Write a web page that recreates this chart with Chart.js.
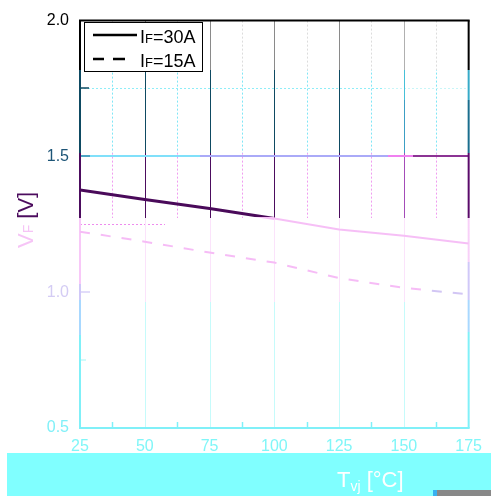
<!DOCTYPE html>
<html lang="en">
<head>
<meta charset="utf-8"/>
<title>VF vs Tvj</title>
<script src="https://cdn.jsdelivr.net/npm/chart.js"></script>
<style>
  html, body { margin: 0; padding: 0; background: #fff; }
  #wrap { width: 491px; height: 496px; }
</style>
</head>
<body>
<div id="wrap"><canvas id="vfChart" width="491" height="496"></canvas></div>
<script>
// junction temperature [°C]
const tempC = [25, 50, 75, 100, 125, 150, 175];
// forward voltage [V] at two currents
const vf30A = [1.376, 1.341, 1.308, 1.271, 1.231, 1.208, 1.179];
const vf15A = [1.223, 1.186, 1.146, 1.109, 1.052, 1.016, 0.992];
const seriesCurrents = ['30A', '15A'];
const xTicks = [25, 50, 75, 100, 125, 150, 175];
const yTicks = [0.5, 1.0, 1.5, 2.0];
const yTickColors = ['#80f0f8', '#d4ccf4', '#1d5577', '#000000'];

const FONT = 'Liberation Sans, Arial, sans-serif';
const H = 496, W = 491;

// hard-banded gradient, bands = [[from, to, colour], ...]
function bandGrad(ctx, bands, horizontal) {
    const size = horizontal ? W : H;
    const g = horizontal ? ctx.createLinearGradient(0, 0, W, 0) : ctx.createLinearGradient(0, 0, 0, H);
    bands.forEach(([a, b, c]) => {
        g.addColorStop(Math.max(0, a) / size, c);
        g.addColorStop(Math.min(size, b) / size, c);
    });
    return g;
}

const NONE = 'rgba(255,255,255,0)';
const majorBands = [[0, 70, '#8a8a8a'], [70, 153, '#0e4a62'], [153, 218, '#4c0c5e'], [218, 302, '#fbe3fb'], [302, 496, '#c6fbfb']];
const majorBandsLight = [[0, 70, '#b0b0b0'], [70, 100, '#46c0d8'], [100, 153, '#3c9ec4'], [153, 218, '#a44cb8'], [218, 302, '#fbe3fb'], [302, 496, '#c6fbfb']];
const minorBands = [[0, 70, '#dcdcdc'], [70, 153, '#7fe6f6'], [153, 218, '#f09cf0'], [218, 496, NONE]];
const leftBorderBands = [[0, 70, '#000000'], [70, 153, '#0e4a62'], [153, 218, '#4c0c5e'], [218, 284, '#f8c8f8'], [284, 300, '#d0c8f8'], [300, 335, '#a8d8ff'], [335, 496, '#80f0f8']];
const rightBorderBands = [[0, 70, '#000000'], [70, 100, '#36aac8'], [100, 153, '#1a6e8e'], [153, 218, '#5a0a6a'], [218, 262, '#f8d0f8'], [262, 300, '#d0c8f8'], [300, 332, '#a8d8ff'], [332, 496, '#80f0f8']];

const gridPlugin = {
    id: 'gridPlugin',
    beforeDatasetsDraw(chart) {
        const { ctx, chartArea: a, scales: { x, y } } = chart;
        ctx.save();
        // minor dotted verticals
        ctx.lineWidth = 1;
        ctx.setLineDash([2, 2]);
        for (let i = 0; i < xTicks.length - 1; i++) {
            const px = Math.round(x.getPixelForValue((xTicks[i] + xTicks[i + 1]) / 2)) + 0.5;
            ctx.strokeStyle = bandGrad(ctx, minorBands);
            ctx.beginPath(); ctx.moveTo(px, a.top); ctx.lineTo(px, a.bottom); ctx.stroke();
        }
        // minor dotted horizontals
        const y175 = Math.round(y.getPixelForValue(1.75)) + 0.5;
        ctx.strokeStyle = bandGrad(ctx, [[0, 382, '#8eeef8'], [382, W, '#c8f6f8']], true);
        ctx.beginPath(); ctx.moveTo(a.left, y175); ctx.lineTo(a.right, y175); ctx.stroke();
        const y125 = Math.round(y.getPixelForValue(1.25)) + 0.5;
        ctx.strokeStyle = bandGrad(ctx, [[0, 165, '#ee8cee'], [165, W, NONE]], true);
        ctx.beginPath(); ctx.moveTo(a.left, y125); ctx.lineTo(a.right, y125); ctx.stroke();
        ctx.setLineDash([]);
        // major verticals
        xTicks.slice(1, -1).forEach(v => {
            const px = Math.round(x.getPixelForValue(v)) + 0.5;
            ctx.strokeStyle = bandGrad(ctx, v >= 150 ? majorBandsLight : majorBands);
            ctx.beginPath(); ctx.moveTo(px, a.top); ctx.lineTo(px, a.bottom); ctx.stroke();
        });
        // major horizontal at 1.5
        const y15 = Math.round(y.getPixelForValue(1.5));
        ctx.lineWidth = 2;
        ctx.strokeStyle = bandGrad(ctx, [[0, 200, '#80e0fa'], [200, 388, '#aaaaf8'], [388, 413, '#f080f0'], [413, W, '#8c3494']], true);
        ctx.beginPath(); ctx.moveTo(a.left, y15); ctx.lineTo(a.right, y15); ctx.stroke();
        // inward y ticks
        const yt = [[1.75, 9, '#0e4a62'], [1.5, 10, '#3a90b0'], [1.0, 10, '#d8d0f8'], [0.75, 6, '#c0f8f8']];
        ctx.lineWidth = 1.5;
        yt.forEach(([v, len, c]) => {
            const py = Math.round(y.getPixelForValue(v));
            ctx.strokeStyle = c;
            ctx.beginPath(); ctx.moveTo(a.left, py); ctx.lineTo(a.left + len, py); ctx.stroke();
        });
        // inward minor x ticks
        ctx.strokeStyle = '#80f0f8';
        for (let i = 0; i < xTicks.length - 1; i++) {
            const px = Math.round(x.getPixelForValue((xTicks[i] + xTicks[i + 1]) / 2)) + 0.5;
            ctx.beginPath(); ctx.moveTo(px, a.bottom); ctx.lineTo(px, a.bottom - 6); ctx.stroke();
        }
        // frame
        ctx.lineWidth = 2;
        ctx.strokeStyle = '#000';
        ctx.beginPath(); ctx.moveTo(a.left - 1, a.top); ctx.lineTo(a.right + 1, a.top); ctx.stroke();
        ctx.strokeStyle = '#80f0f8';
        ctx.beginPath(); ctx.moveTo(a.left - 1, a.bottom); ctx.lineTo(a.right + 1, a.bottom); ctx.stroke();
        ctx.strokeStyle = bandGrad(ctx, leftBorderBands);
        ctx.beginPath(); ctx.moveTo(a.left, a.top); ctx.lineTo(a.left, a.bottom); ctx.stroke();
        ctx.strokeStyle = bandGrad(ctx, rightBorderBands);
        ctx.beginPath(); ctx.moveTo(a.right, a.top); ctx.lineTo(a.right, a.bottom); ctx.stroke();
        ctx.restore();
    },
    afterDatasetsDraw(chart) {
        const { ctx } = chart;
        ctx.save();
        // legend box
        ctx.fillStyle = '#fff';
        ctx.fillRect(84, 22, 119, 50);
        ctx.strokeStyle = '#000';
        ctx.lineWidth = 1;
        ctx.strokeRect(84.5, 22.5, 118, 49);
        ctx.lineWidth = 2.5;
        ctx.beginPath(); ctx.moveTo(93, 35); ctx.lineTo(137, 35); ctx.stroke();
        ctx.beginPath(); ctx.moveTo(93, 59); ctx.lineTo(104, 59); ctx.moveTo(113, 59); ctx.lineTo(125, 59); ctx.stroke();
        ctx.fillStyle = '#000';
        ctx.textBaseline = 'alphabetic';
        seriesCurrents.forEach((lab, i) => {
            const by = i === 0 ? 43 : 67;
            let tx = 140;
            ctx.font = '18px ' + FONT; ctx.fillText('I', tx, by); tx += ctx.measureText('I').width;
            ctx.font = '13px ' + FONT; ctx.fillText('F', tx, by); tx += ctx.measureText('F').width;
            ctx.font = '18px ' + FONT; ctx.fillText('=' + lab, tx, by);
        });
        // y axis title
        ctx.translate(33, 248);
        ctx.rotate(-Math.PI / 2);
        let tx = 0;
        ctx.fillStyle = '#f6c4f6';
        ctx.font = '22px ' + FONT; ctx.fillText('V', tx, 0); tx += ctx.measureText('V').width;
        ctx.font = '14px ' + FONT; ctx.fillText('F', tx, 0); tx += ctx.measureText('F').width;
        ctx.font = '22px ' + FONT; tx += ctx.measureText(' ').width;
        ctx.fillStyle = '#4c0c5e';
        ctx.fillText('[V]', tx, 0);
        ctx.restore();
    },
    afterDraw(chart) {
        const { ctx } = chart;
        ctx.save();
        ctx.fillStyle = '#80ffff';
        ctx.fillRect(7, 453, W - 7, H - 453);
        ctx.fillStyle = '#888';
        ctx.fillRect(433, 490, W - 433, 6);
        ctx.fillStyle = '#38b0f0';
        ctx.fillRect(433, 490, 4, 6);
        // x axis title
        ctx.fillStyle = '#fff';
        let tx = 337;
        ctx.font = '22px ' + FONT; ctx.fillText('T', tx, 487); tx += ctx.measureText('T').width;
        ctx.font = '14px ' + FONT; ctx.fillText('vj', tx, 491); tx += ctx.measureText('vj').width;
        ctx.font = '22px ' + FONT; ctx.fillText(' [°C]', tx, 487);
        ctx.restore();
    }
};

new Chart(document.getElementById('vfChart'), {
    type: 'line',
    data: {
        datasets: [{
            label: 'IF=' + seriesCurrents[0],
            data: tempC.map((t, i) => ({ x: t, y: vf30A[i] })),
            borderColor: c => bandGrad(c.chart.ctx, [[0, 217, '#4a0a5a'], [217, H, '#f6bff6']]),
            borderWidth: 3,
            segment: { borderWidth: s => (s.p0.parsed.x >= 100 ? 2 : 3) },
            pointRadius: 0,
            tension: 0
        }, {
            label: 'IF=' + seriesCurrents[1],
            data: tempC.map((t, i) => ({ x: t, y: vf15A[i] })),
            borderColor: c => bandGrad(c.chart.ctx, [[0, 428, '#f6bcf6'], [428, W, '#d2c6f4']], true),
            borderWidth: 2,
            borderDash: [10, 11],
            pointRadius: 0,
            tension: 0
        }]
    },
    options: {
        responsive: false,
        devicePixelRatio: 1,
        animation: false,
        layout: { padding: { left: 0, top: 17, right: 21, bottom: 0 } },
        plugins: { legend: { display: false }, tooltip: { enabled: false } },
        scales: {
            x: {
                type: 'linear',
                min: 25, max: 175,
                afterBuildTicks: s => { s.ticks = xTicks.map(v => ({ value: v })); },
                afterFit: s => { s.height = 68; },
                grid: { display: false, drawTicks: false },
                border: { display: false },
                ticks: { color: '#80f6f8', font: { size: 16, family: FONT }, padding: 9, maxRotation: 0 }
            },
            y: {
                min: 0.5, max: 2.0,
                afterBuildTicks: s => { s.ticks = yTicks.map(v => ({ value: v })); },
                afterFit: s => { s.width = 80; },
                grid: { display: false, drawTicks: false },
                border: { display: false },
                ticks: {
                    color: c => yTickColors[yTicks.indexOf(c.tick.value)] || '#000',
                    font: { size: 16, family: FONT },
                    padding: 11,
                    callback: v => v.toFixed(1)
                }
            }
        }
    },
    plugins: [gridPlugin]
});
</script>
</body>
</html>
